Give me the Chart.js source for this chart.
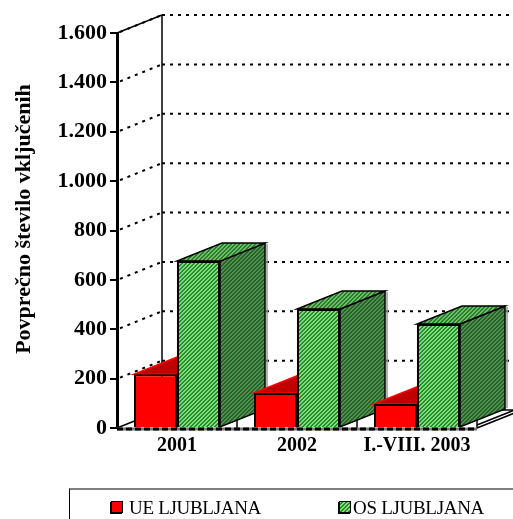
<!DOCTYPE html>
<html>
<head>
<meta charset="utf-8">
<script src="https://cdn.jsdelivr.net/npm/chart.js@4"></script>
<style>
html,body{margin:0;padding:0;background:#fff;}
#wrap{position:relative;width:513px;height:519px;overflow:hidden;}
#c{position:absolute;left:0;top:0;}
#legend{position:absolute;left:69px;top:488px;width:460px;height:40px;border-top:2px solid #808080;border-left:1px solid #000;box-sizing:border-box;}
.sw{position:absolute;width:12px;height:12px;box-sizing:border-box;border:1px solid #000;box-shadow:-1px 1px 0 #000;}
.lt{position:absolute;font-family:"Liberation Serif","Times New Roman",serif;font-size:19px;line-height:19px;color:#000;white-space:nowrap;letter-spacing:-0.3px;}
</style>
</head>
<body>
<div id="wrap">
<canvas id="c" width="513" height="519"></canvas>
<div id="legend"></div>
</div>
<script>
// ---- data ----
const categories = ['2001', '2002', 'I.-VIII. 2003'];
const ueLjubljana = [218, 142, 97];
const osLjubljana = [676, 482, 421];
const seriesNames = ['UE LJUBLJANA', 'OS LJUBLJANA'];
const axisTitle = 'Povprečno število vključenih';
const yMin = 0, yMax = 1600, yStep = 200;

// ---- styles ----
const DX = 45, DY = -18;
function makePattern(c1, c2, period, darkCount) {
  const p = document.createElement('canvas');
  p.width = period; p.height = period;
  const g = p.getContext('2d');
  for (let x = 0; x < period; x++) for (let y = 0; y < period; y++) {
    g.fillStyle = ((x + y) % period) < darkCount ? c2 : c1;
    g.fillRect(x, y, 1, 1);
  }
  return g.createPattern(p, 'repeat');
}
const greenFront = makePattern('#7ce07c', '#2a8a2a', 4, 2);
const greenSide = makePattern('#2a5e2a', '#4c944c', 4, 2);
const greenTop = makePattern('#2f7a2f', '#66c066', 4, 2);
const styles = [
  { front: '#ff0000', top: '#c00000', side: '#a00000', edge: '#ff0000' },
  { front: greenFront, top: greenTop, side: greenSide, edge: '#000000' }
];

function fmt(v) { return String(v).replace(/\B(?=(\d{3})+(?!\d))/g, '.'); }

function poly(ctx, pts, fill, stroke, lw) {
  ctx.beginPath();
  ctx.moveTo(pts[0][0], pts[0][1]);
  for (let k = 1; k < pts.length; k++) ctx.lineTo(pts[k][0], pts[k][1]);
  ctx.closePath();
  if (fill) { ctx.fillStyle = fill; ctx.fill(); }
  if (stroke) { ctx.strokeStyle = stroke; ctx.lineWidth = lw || 1; ctx.stroke(); }
}

const box3d = {
  id: 'box3d',
  beforeDatasetsDraw(chart) {
    const ctx = chart.ctx, a = chart.chartArea, ys = chart.scales.y;
    const W = chart.width;
    ctx.save();
    // floor
    poly(ctx, [[a.left, a.bottom], [a.right, a.bottom], [a.right + DX, a.bottom + DY], [a.left + DX, a.bottom + DY]], '#ffffff', null);
    // walls grid
    ctx.strokeStyle = '#000'; ctx.lineWidth = 2; ctx.setLineDash([3, 5]);
    for (let v = yMin + yStep; v <= yMax; v += yStep) {
      const y = ys.getPixelForValue(v);
      ctx.beginPath(); ctx.moveTo(a.left + 3, y - 1); ctx.lineTo(a.left + DX, y + DY); ctx.stroke();
      ctx.beginPath(); ctx.moveTo(a.left + DX, y + DY); ctx.lineTo(W, y + DY); ctx.stroke();
    }
    ctx.setLineDash([]);
    ctx.lineWidth = 1.5;
    const yt = ys.getPixelForValue(yMax);
    ctx.beginPath(); ctx.moveTo(a.left, yt); ctx.lineTo(a.left + DX, yt + DY); ctx.stroke();
    ctx.beginPath(); ctx.moveTo(a.left + DX, yt + DY); ctx.lineTo(a.left + DX, a.bottom + DY); ctx.stroke();
    ctx.beginPath(); ctx.moveTo(a.left, a.bottom); ctx.lineTo(a.left + DX, a.bottom + DY); ctx.stroke();
    ctx.beginPath(); ctx.moveTo(a.left + DX, a.bottom + DY); ctx.lineTo(W, a.bottom + DY); ctx.stroke();
    // floor right edge
    ctx.beginPath(); ctx.moveTo(a.right, a.bottom); ctx.lineTo(a.right + DX, a.bottom + DY); ctx.stroke();
    ctx.beginPath(); ctx.moveTo(a.right, a.bottom - 3); ctx.lineTo(a.right + DX, a.bottom + DY - 3); ctx.stroke();
    // category ticks on floor
    for (let i = 1; i <= categories.length; i++) {
      const x = a.left + (a.right - a.left) * i / categories.length;
      ctx.beginPath(); ctx.moveTo(x, a.bottom); ctx.lineTo(x, a.bottom - 8); ctx.stroke();
    }
    // bars: side + top
    for (let i = 0; i < categories.length; i++) {
      for (let d = 0; d < chart.data.datasets.length; d++) {
        const el = chart.getDatasetMeta(d).data[i];
        const p = el.getProps(['x', 'y', 'base', 'width'], true);
        const l = p.x - p.width / 2, r = p.x + p.width / 2, t = p.y, b = p.base;
        const st = styles[d];
        poly(ctx, [[r, t], [r + DX, t + DY], [r + DX, b + DY], [r, b]], st.side, '#000', 1.5);
        if (d === 1) {
          ctx.strokeStyle = '#999'; ctx.lineWidth = 1.5;
          ctx.beginPath(); ctx.moveTo(r + DX + 2, t + DY + 1); ctx.lineTo(r + DX + 2, b + DY - 1); ctx.stroke();
        }
        poly(ctx, [[l, t], [r, t], [r + DX, t + DY], [l + DX, t + DY]], st.top, st.edge, 1.5);
      }
    }
    ctx.restore();
  },
  afterDatasetsDraw(chart) {
    const ctx = chart.ctx, a = chart.chartArea;
    ctx.save();
    ctx.lineWidth = 3;
    ctx.strokeStyle = '#777';
    ctx.beginPath(); ctx.moveTo(a.left, a.bottom + 1); ctx.lineTo(a.right, a.bottom + 1); ctx.stroke();
    ctx.strokeStyle = '#000'; ctx.setLineDash([6, 3]);
    ctx.beginPath(); ctx.moveTo(a.left, a.bottom + 1); ctx.lineTo(a.right, a.bottom + 1); ctx.stroke();
    ctx.setLineDash([]);
    // axis title
    ctx.translate(24, 219);
    ctx.rotate(-Math.PI / 2);
    ctx.font = 'bold 22px "Liberation Serif", "Times New Roman", serif';
    ctx.fillStyle = '#000';
    ctx.textAlign = 'center'; ctx.textBaseline = 'middle';
    ctx.fillText(axisTitle, 0, 0);
    ctx.restore();
  }
};

new Chart(document.getElementById('c'), {
  type: 'bar',
  data: {
    labels: categories,
    datasets: [
      { label: seriesNames[0], data: ueLjubljana, backgroundColor: styles[0].front, borderColor: '#000', borderWidth: 2, categoryPercentage: 0.717, barPercentage: 1 },
      { label: seriesNames[1], data: osLjubljana, backgroundColor: styles[1].front, borderColor: '#000', borderWidth: 2, categoryPercentage: 0.717, barPercentage: 1 }
    ]
  },
  options: {
    responsive: false,
    animation: false,
    layout: { padding: { top: 33, right: 36, bottom: 0, left: 0 } },
    plugins: { legend: { display: false }, tooltip: { enabled: false } },
    scales: {
      x: {
        grid: { display: false, drawTicks: false },
        border: { display: false },
        ticks: { color: '#000', padding: 6, font: { family: '"Liberation Serif", "Times New Roman", serif', size: 20, weight: 'bold' } },
        afterFit(s) { s.height = 91; }
      },
      y: {
        min: yMin, max: yMax,
        ticks: { stepSize: yStep, color: '#000', padding: 3, callback: v => fmt(v), font: { family: '"Liberation Serif", "Times New Roman", serif', size: 22, weight: 'bold' } },
        grid: { drawOnChartArea: false, drawTicks: true, tickLength: 7, color: '#000', lineWidth: 2 },
        border: { color: '#000', width: 3 },
        afterFit(s) { s.width = 117; }
      }
    }
  },
  plugins: [box3d]
});

// legend (HTML)
const lg = document.getElementById('legend');
const swFill = ['#ff0000', 'repeating-linear-gradient(135deg,#7ce07c 0 1.4px,#2a8a2a 1.4px 2.8px)'];
const swX = [41, 269], txX = [59, 283];
seriesNames.forEach((n, k) => {
  const s = document.createElement('div'); s.className = 'sw';
  s.style.left = swX[k] + 'px'; s.style.top = '11px'; s.style.background = swFill[k];
  lg.appendChild(s);
  const t = document.createElement('div'); t.className = 'lt';
  t.style.left = txX[k] + 'px'; t.style.top = '8px'; t.textContent = n;
  lg.appendChild(t);
});
</script>
</body>
</html>
